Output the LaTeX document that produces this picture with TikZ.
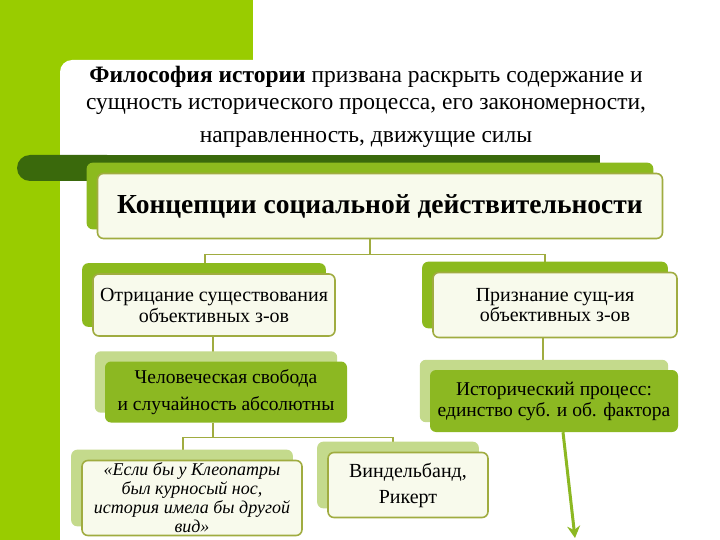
\documentclass[tikz,border=0pt]{standalone}
\usepackage{fontspec}
\setmainfont{Liberation Serif}
\usetikzlibrary{calc,arrows.meta}
\definecolor{leafgreen}{RGB}{153,204,0}
\definecolor{bargreen}{RGB}{58,105,12}
\definecolor{backgreen}{RGB}{140,186,30}
\definecolor{palegreen}{RGB}{196,218,140}
\definecolor{boxgreen}{RGB}{140,184,34}
\definecolor{rimgreen}{RGB}{160,172,64}
\definecolor{boxfill}{RGB}{248,250,236}
\pgfdeclarelayer{panel}
\pgfdeclarelayer{links}
\pgfdeclarelayer{backs}
\pgfsetlayers{panel,links,backs,main}
\def\backof[#1](#2){\fill[#1] ($(#2.north west)+(-10,-10)$) rectangle ($(#2.south east)+(-10,-10)$);}
\tikzset{
  framebox/.style={draw=rimgreen, line width=1.6pt, fill=boxfill, rounded corners=6pt, align=center, inner sep=2pt},
  greenbox/.style={fill=boxgreen, rounded corners=6pt, align=center, inner sep=2pt},
  backbox/.style={fill=backgreen, rounded corners=6pt},
  shadebox/.style={fill=palegreen, rounded corners=6pt},
  link/.style={draw=rimgreen, line width=1.4pt},
  arrowline/.style={draw=boxgreen, line width=3pt, -{Stealth[length=12pt,width=13pt,inset=4pt]}},
}
\begin{document}
\begin{tikzpicture}[x=1pt, y=-1pt]
	\useasboundingbox (0,0) rectangle (720,540);
	\clip (0,0) rectangle (720,540);
	
	%%%%% PANEL %%%%%
	\begin{pgfonlayer}{panel}
		\fill[leafgreen] (0,0) rectangle (720,540);
		\fill[white, rounded corners=12pt] (60,60) rectangle (760,580);
		\fill[white] (253,0) rectangle (720,62);
		\fill[bargreen, rounded corners=13pt] (17,155) rectangle (120,181);
		\fill[bargreen] (60,155) rectangle (600,181);
	\end{pgfonlayer}
	
	\node[font=\fontsize{23.5}{27}\selectfont, align=center] (title) at (366,107)
		{\textbf{Философия истории} призвана раскрыть содержание и\\
		 сущность исторического процесса, его закономерности,\\[6pt]
		 направленность, движущие силы};
	
	%%%%% BOXES %%%%%
	\node[framebox, minimum width=565, minimum height=65, font=\fontsize{27.5}{30}\selectfont\bfseries] (main) at (380,206)
		{Концепции социальной действительности};
	
	\node[framebox, minimum width=242, minimum height=62, font=\fontsize{20}{21}\selectfont] (neg) at (214,305)
		{Отрицание существования\\ объективных з-ов};
	\node[framebox, minimum width=244, minimum height=65, font=\fontsize{20}{20}\selectfont] (rec) at (555,305)
		{Признание сущ-ия\\ объективных з-ов};
	
	\node[greenbox, minimum width=242, minimum height=61, font=\fontsize{19.5}{21}\selectfont] (free) at (226,392)
		{Человеческая свобода\\[6pt] и случайность абсолютны};
	\node[greenbox, minimum width=248, minimum height=62, font=\fontsize{19.5}{21}\selectfont] (proc) at (554,401)
		{Исторический процесс:\\ единство суб. и об. фактора};
	
	\node[framebox, minimum width=220, minimum height=75, font=\fontsize{18}{19}\selectfont\itshape] (quote) at (192,498)
		{«Если бы у Клеопатры\\ был курносый нос,\\ история имела бы другой\\ вид»};
	\node[framebox, minimum width=160, minimum height=65, font=\fontsize{20}{26}\selectfont] (wind) at (408,485)
		{Виндельбанд,\\ Рикерт};
	
	\begin{pgfonlayer}{backs}
		\backof[backbox](main)
		\backof[backbox](neg)
		\backof[backbox](rec)
		\backof[shadebox](free)
		\backof[shadebox](proc)
		\backof[shadebox](quote)
		\backof[shadebox](wind)
	\end{pgfonlayer}
	
	%%%%% LINKS %%%%%
	\begin{pgfonlayer}{links}
		\draw[link] ([xshift=-10pt]main.south) -- ++(0,15) coordinate (hub);
		\draw[link] ([xshift=-9pt]neg.north) |- (hub) -| ([xshift=-10pt]rec.north);
		\draw[link] ([xshift=-1pt]neg.south) -- ++(0,20);
		\draw[link] ([xshift=-12pt]rec.south) -- ++(0,25);
		\draw[link] ([xshift=-13pt]free.south) -- ++(0,15) coordinate (hub2);
		\draw[link] ([xshift=-9pt]quote.north) |- (hub2) -| ([xshift=-15pt]wind.north);
	\end{pgfonlayer}
	
	\coordinate (tip) at (575,538);
	\draw[arrowline] ([xshift=9pt]proc.south) -- (tip);
\end{tikzpicture}
\end{document}
